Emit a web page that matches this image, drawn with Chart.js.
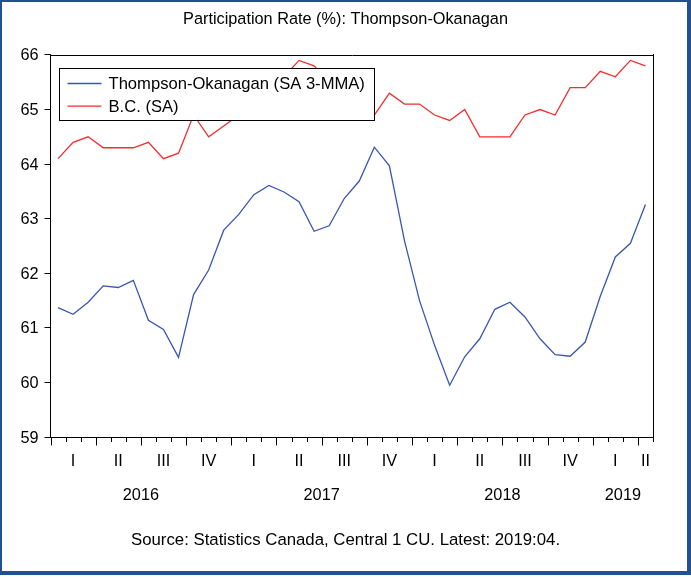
<!DOCTYPE html>
<html>
<head>
<meta charset="utf-8">
<script src="https://cdn.jsdelivr.net/npm/chart.js@4.4.1/dist/chart.umd.min.js"></script>
<style>
html, body { margin: 0; padding: 0; background: #fff; }
#wrap { position: relative; width: 691px; height: 579px; }
#chart { position: absolute; left: 0; top: 0; }
#frame {
    position: absolute; left: 0; top: 0; width: 691px; height: 575px;
    box-sizing: border-box; border-style: solid; border-color: #24508f;
    border-width: 2px 4px 4px 2px; pointer-events: none;
}
</style>
</head>
<body>
<div id="wrap">
    <canvas id="chart" width="691" height="579"></canvas>
    <div id="frame"></div>
</div>
<script>
// monthly, 2016:01 - 2019:04
const months = [
    '2016:01', '2016:02', '2016:03', '2016:04', '2016:05', '2016:06',
    '2016:07', '2016:08', '2016:09', '2016:10', '2016:11', '2016:12',
    '2017:01', '2017:02', '2017:03', '2017:04', '2017:05', '2017:06',
    '2017:07', '2017:08', '2017:09', '2017:10', '2017:11', '2017:12',
    '2018:01', '2018:02', '2018:03', '2018:04', '2018:05', '2018:06',
    '2018:07', '2018:08', '2018:09', '2018:10', '2018:11', '2018:12',
    '2019:01', '2019:02', '2019:03', '2019:04'
];
const thompsonOkanagan = [
    61.37, 61.25, 61.47, 61.77, 61.74, 61.87, 61.14, 60.97, 60.46, 61.61, 62.06, 62.79,
    63.08, 63.44, 63.61, 63.49, 63.31, 62.77, 62.87, 63.37, 63.69, 64.31, 63.97, 62.60,
    61.50, 60.68, 59.95, 60.47, 60.80, 61.34, 61.47, 61.20, 60.80, 60.51, 60.48, 60.74,
    61.58, 62.30, 62.55, 63.26
];
const bc = [
    64.1, 64.4, 64.5, 64.3, 64.3, 64.3, 64.4, 64.1, 64.2, 64.9, 64.5, 64.7,
    64.9, 65.1, 65.4, 65.6, 65.9, 65.8, 65.5, 65.3, 65.1, 64.9, 65.3, 65.1,
    65.1, 64.9, 64.8, 65.0, 64.5, 64.5, 64.5, 64.9, 65.0, 64.9, 65.4, 65.4,
    65.7, 65.6, 65.9, 65.8
];
const quarterNames = ['I', 'II', 'III', 'IV'];
const years = ['2016', '2017', '2018', '2019'];

const FONT = "'Liberation Sans', Arial, sans-serif";
Chart.defaults.font.family = FONT;
Chart.defaults.font.size = 16.3;
Chart.defaults.color = '#000';

// quarter / year labels, month ticks, top of plot box, legend
const eviewsAxis = {
    id: 'eviewsAxis',
    afterDatasetsDraw(chart) {
        const ctx = chart.ctx;
        const ca = chart.chartArea;
        const xs = chart.scales.x;
        ctx.save();
        ctx.strokeStyle = '#000';
        ctx.lineWidth = 1;

        ctx.beginPath();
        ctx.moveTo(Math.round(ca.left), Math.round(ca.top) + 0.5);
        ctx.lineTo(Math.round(ca.right) + 1, Math.round(ca.top) + 0.5);
        ctx.stroke();

        // month ticks, longer at quarter boundaries
        const yb = Math.round(ca.bottom) + 0.5;
        ctx.beginPath();
        for (let i = 0; i <= months.length; i++) {
            const x = Math.round(xs.getPixelForValue(i - 0.5)) + 0.5;
            ctx.moveTo(x, yb);
            ctx.lineTo(x, yb + (i % 3 === 0 ? 8 : 4.5));
        }
        ctx.stroke();

        // quarter and year labels
        ctx.fillStyle = '#000';
        ctx.font = '16.3px ' + FONT;
        ctx.textAlign = 'center';
        ctx.textBaseline = 'middle';
        for (let q = 0; q * 3 < months.length; q++) {
            const first = q * 3;
            const last = Math.min(first + 2, months.length - 1);
            const x = xs.getPixelForValue((first + last) / 2);
            ctx.fillText(quarterNames[q % 4], x, ca.bottom + 24);
        }
        years.forEach((y, k) => {
            const first = k * 12;
            const last = Math.min(first + 11, months.length - 1);
            const x = xs.getPixelForValue((first + last) / 2);
            ctx.fillText(y, x, ca.bottom + 58);
        });

        // legend box
        const bx = Math.round(ca.left) + 8.5, by = Math.round(ca.top) + 13.5;
        ctx.fillStyle = '#fff';
        ctx.fillRect(bx, by, 315, 52);
        ctx.strokeRect(bx, by, 315, 52);
        ctx.textAlign = 'left';
        ctx.font = '16.6px ' + FONT;
        chart.data.datasets.forEach((ds, i) => {
            const y = by + 15 + i * 22.7;
            ctx.strokeStyle = ds.borderColor;
            ctx.lineWidth = 1.3;
            ctx.beginPath();
            ctx.moveTo(bx + 8, y);
            ctx.lineTo(bx + 42, y);
            ctx.stroke();
            ctx.fillStyle = '#000';
            ctx.fillText(ds.label, bx + 49, y + 1);
        });
        ctx.restore();
    }
};

const chart = new Chart(document.getElementById('chart'), {
    type: 'line',
    data: {
        labels: months,
        datasets: [{
            label: 'Thompson-Okanagan (SA 3-MMA)',
            data: thompsonOkanagan,
            borderColor: '#3a56b0',
            borderWidth: 1.3,
            pointRadius: 0,
            tension: 0
        }, {
            label: 'B.C. (SA)',
            data: bc,
            borderColor: '#f42c2c',
            borderWidth: 1.3,
            pointRadius: 0,
            tension: 0
        }]
    },
    options: {
        responsive: false,
        animation: false,
        layout: { padding: 0 },
        plugins: {
            legend: { display: false },
            tooltip: { enabled: false },
            title: {
                display: true,
                text: 'Participation Rate (%): Thompson-Okanagan',
                font: { size: 16.3, weight: 'normal' },
                color: '#000',
                padding: { top: 10, bottom: 25.4 }
            },
            subtitle: {
                display: true,
                position: 'bottom',
                text: 'Source: Statistics Canada, Central 1 CU. Latest: 2019:04.',
                font: { size: 16.8, weight: 'normal' },
                color: '#000',
                padding: { top: 13, bottom: 28.8 }
            }
        },
        scales: {
            x: {
                type: 'category',
                offset: true,
                grid: { display: false },
                ticks: { display: false },
                border: { display: true, color: '#000', width: 1 },
                afterFit(scale) { scale.height = 80; }
            },
            y: {
                min: 59,
                max: 66,
                ticks: { stepSize: 1, padding: 6, labelOffset: 1, color: '#000', font: { size: 16.3 } },
                grid: { display: true, drawOnChartArea: false, tickLength: 6, color: '#000' },
                border: { display: true, color: '#000', width: 1 },
                afterFit(scale) { scale.width = 50.5; }
            },
            y2: {
                position: 'right',
                grid: { display: false },
                ticks: { display: false },
                border: { display: true, color: '#000', width: 1 },
                afterFit(scale) { scale.width = 38; }
            }
        }
    },
    plugins: [eviewsAxis]
});
</script>
</body>
</html>
